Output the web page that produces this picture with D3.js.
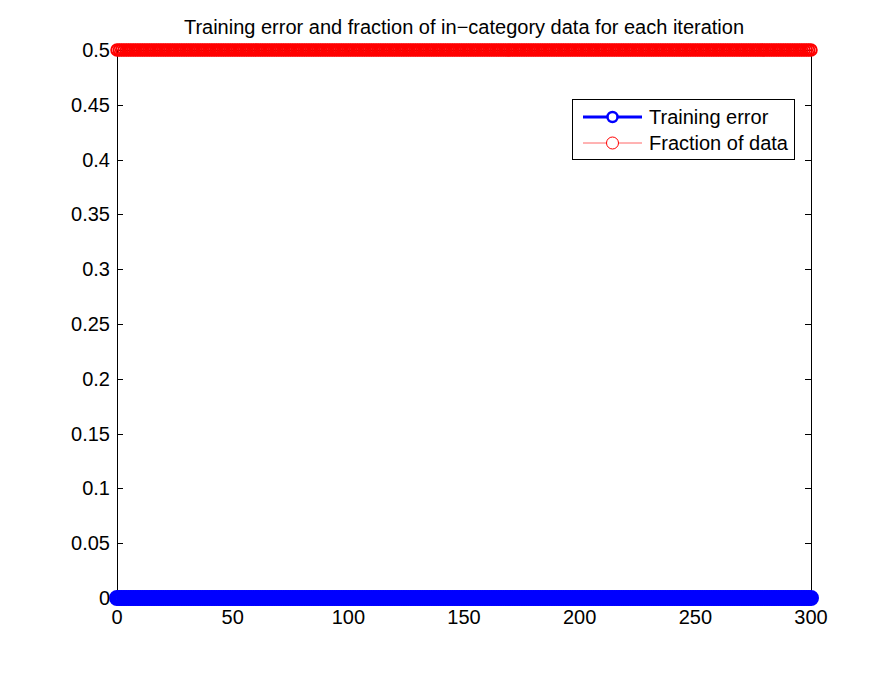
<!DOCTYPE html>
<html><head><meta charset="utf-8">
<script src="https://cdn.jsdelivr.net/npm/d3@7"></script>
<style>body{margin:0;background:#fff}svg{display:block}text{font-family:"Liberation Sans",Arial,Helvetica,sans-serif;fill:#000}</style>
</head><body><div id="c"></div>
<script>
// Data
const iterations = d3.range(0, 301);               // iteration index 0..300
const trainingError = iterations.map(() => 0);      // flat at 0
const fractionOfData = iterations.map(() => 0.5);   // flat at 0.5
const xTicks = [0, 50, 100, 150, 200, 250, 300];
const yTicks = [0, 0.05, 0.1, 0.15, 0.2, 0.25, 0.3, 0.35, 0.4, 0.45, 0.5];
const seriesNames = ["Training error", "Fraction of data"];
const titleText = "Training error and fraction of in\u2212category data for each iteration";

const W = 896, H = 674;
const L = 117, R = 811, T = 50, B = 598;
const FS = 20;
const svg = d3.select("#c").append("svg").attr("width", W).attr("height", H);
const x = d3.scaleLinear().domain([0, 300]).range([L, R]);
const y = d3.scaleLinear().domain([0, 0.5]).range([B, T]);
const tl = 6;

// Box
svg.append("rect").attr("x", L + 0.5).attr("y", T + 0.5).attr("width", R - L).attr("height", B - T)
  .attr("fill", "none").attr("stroke", "#000").attr("stroke-width", 1);

// Ticks
const g = svg.append("g").attr("stroke", "#000").attr("stroke-width", 1);
xTicks.forEach(v => {
  const px = Math.round(x(v)) + 0.5;
  g.append("line").attr("x1", px).attr("x2", px).attr("y1", B).attr("y2", B - tl);
  g.append("line").attr("x1", px).attr("x2", px).attr("y1", T).attr("y2", T + tl);
});
yTicks.forEach(v => {
  const py = Math.round(y(v)) + 0.5;
  g.append("line").attr("x1", L).attr("x2", L + tl).attr("y1", py).attr("y2", py);
  g.append("line").attr("x1", R).attr("x2", R - tl).attr("y1", py).attr("y2", py);
});
svg.append("g").selectAll("text").data(xTicks).join("text")
  .attr("x", d => x(d)).attr("y", 624).attr("text-anchor", "middle")
  .attr("font-size", FS).text(d => String(d));
svg.append("g").selectAll("text").data(yTicks).join("text")
  .attr("x", 110).attr("y", d => y(d) + 7).attr("text-anchor", "end")
  .attr("font-size", FS).text(d => String(d));

// Title
svg.append("text").attr("x", 464).attr("y", 34).attr("text-anchor", "middle")
  .attr("font-size", FS).text(titleText);

// Series
const line = d3.line().x(d => x(d[0])).y(d => y(d[1]));
const blueData = iterations.map((it, i) => [it, trainingError[i]]);
const redData = iterations.map((it, i) => [it, fractionOfData[i]]);
svg.append("path").datum(blueData).attr("d", line).attr("fill", "none").attr("stroke", "#0000ff").attr("stroke-width", 3);
svg.append("g").selectAll("circle").data(blueData).join("circle")
  .attr("cx", d => x(d[0])).attr("cy", d => y(d[1])).attr("r", 6.5)
  .attr("fill", "none").attr("stroke", "#0000ff").attr("stroke-width", 3);
svg.append("path").datum(redData).attr("d", line).attr("fill", "none").attr("stroke", "#ff0000").attr("stroke-width", 1);
svg.append("g").selectAll("circle").data(redData).join("circle")
  .attr("cx", d => x(d[0])).attr("cy", d => y(d[1])).attr("r", 5.75)
  .attr("fill", "none").attr("stroke", "#ff0000").attr("stroke-width", 2);

// Legend
const lg = svg.append("g");
lg.append("rect").attr("x", 572.5).attr("y", 99.5).attr("width", 222).attr("height", 60)
  .attr("fill", "#fff").attr("stroke", "#000").attr("stroke-width", 1);
const items = [
  {name: seriesNames[0], color: "#0000ff", sw: 3, r: 5, y: 117},
  {name: seriesNames[1], color: "#ff0000", sw: 1, r: 6, y: 143}
];
items.forEach(it => {
  lg.append("line").attr("x1", 583).attr("x2", 642).attr("y1", it.y).attr("y2", it.y)
    .attr("stroke", it.color).attr("stroke-width", it.sw).attr("stroke-opacity", it.sw === 1 ? 0.6 : 1);
  lg.append("circle").attr("cx", 612.5).attr("cy", it.y).attr("r", it.r)
    .attr("fill", "#fff").attr("stroke", it.color).attr("stroke-width", it.sw === 1 ? 1 : 2.5);
  lg.append("text").attr("x", 649).attr("y", it.y + 7).attr("font-size", FS).text(it.name);
});
</script></body></html>
